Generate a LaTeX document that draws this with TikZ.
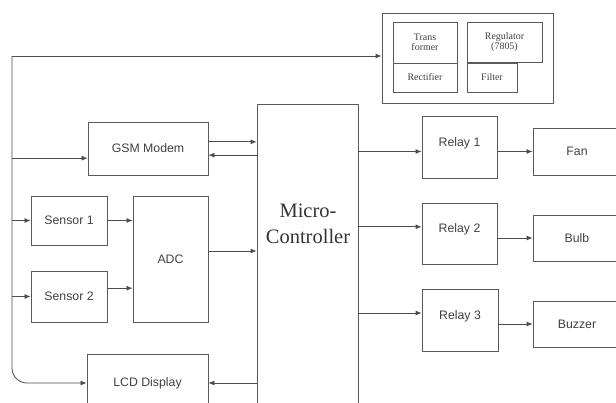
\documentclass[tikz,border=0pt]{standalone}
\usepackage{fontspec}
\setmainfont{Liberation Serif}
\setsansfont{Liberation Sans}
\usetikzlibrary{arrows.meta}

\begin{document}
\begin{tikzpicture}[x=0.03cm,y=-0.03cm,>={Latex[length=1.8mm,width=1.5mm]},
  blk/.style={draw=black!65,line width=0.7pt,inner sep=0pt,text=black!75,
    font=\sffamily\fontsize{10.5}{12}\selectfont},
  relayblk/.style={blk,text depth=0.3cm},
  psblk/.style={blk,align=center,font=\fontsize{8.5}{9}\selectfont},
  wire/.style={->,draw=black!70,line width=0.7pt}]
  \useasboundingbox (0,0) rectangle (616,403);
  \clip (0,0) rectangle (616,403);
  % power supply
  \node[blk,minimum width=5.13cm,minimum height=2.7cm] (ps) at (467.5,58) {};
  \node[psblk,minimum width=1.92cm,minimum height=1.23cm] (trans) at (425,42.5) {Trans\\former};
  \node[psblk,minimum width=2.25cm,minimum height=1.2cm] (reg) at (504.5,42) {Regulator\\(7805)};
  \node[psblk,minimum width=1.92cm,minimum height=0.87cm] (rect) at (425,77.5) {Rectifier};
  \node[psblk,minimum width=1.5cm,minimum height=0.87cm] (filter) at (492,77.5) {Filter};
  % input side
  \node[blk,minimum width=3.6cm,minimum height=1.59cm] (gsm) at (148,148.5) {GSM Modem};
  \node[blk,minimum width=2.28cm,minimum height=1.47cm] (s1) at (69,220.5) {Sensor 1};
  \node[blk,minimum width=2.28cm,minimum height=1.53cm] (s2) at (69,296.5) {Sensor 2};
  \node[blk,minimum width=2.25cm,minimum height=3.78cm] (adc) at (170.5,259) {ADC};
  \node[blk,minimum width=3.63cm,minimum height=1.7cm] (lcd) at (147.5,383) {LCD Display};
  % controller
  \node[blk,minimum width=3.03cm,minimum height=9.48cm] (mc) at (307.5,262) {};
  \node[align=center,text=black!80,font=\fontsize{17.5}{22}\selectfont] (mclabel) at (308,224) {Micro-\\Controller};
  % output side
  \node[relayblk,minimum width=2.25cm,minimum height=1.86cm] (r1) at (459.5,147) {Relay 1};
  \node[relayblk,minimum width=2.25cm,minimum height=1.83cm] (r2) at (459.5,233.5) {Relay 2};
  \node[relayblk,minimum width=2.28cm,minimum height=1.86cm] (r3) at (460,320) {Relay 3};
  \node[blk,minimum width=2.64cm,minimum height=1.41cm] (fan) at (577,151.5) {Fan};
  \node[blk,minimum width=2.64cm,minimum height=1.38cm] (bulb) at (577,238) {Bulb};
  \node[blk,minimum width=2.64cm,minimum height=1.38cm] (buzzer) at (577,324) {Buzzer};

  % supply bus
  \coordinate (bustop) at (12,56);
  \draw[wire] (bustop) -- (bustop -| ps.west);
  \draw[wire,rounded corners=0.45cm] (bustop) -- (bustop |- lcd.west) -- (lcd.west);
  \coordinate (gsmin) at ([yshift=-0.29cm]gsm.west);
  \draw[wire] (bustop |- gsmin) -- (gsmin);
  \draw[wire] (bustop |- s1.west) -- (s1.west);
  \draw[wire] (bustop |- s2.west) -- (s2.west);

  % into the controller
  \coordinate (gsmout) at ([yshift=0.2cm]gsm.east);
  \coordinate (gsmback) at ([yshift=-0.2cm]gsm.east);
  \draw[wire] (gsmout) -- (gsmout -| mc.west);
  \draw[wire] (gsmback -| mc.west) -- (gsmback);
  \draw[wire] (s1.east) -- (s1.east -| adc.west);
  \coordinate (s2out) at ([yshift=0.25cm]s2.east);
  \draw[wire] (s2out) -- (s2out -| adc.west);
  \coordinate (adcout) at ([yshift=0.24cm]adc.east);
  \draw[wire] (adcout) -- (adcout -| mc.west);
  \draw[wire] (lcd.east -| mc.west) -- (lcd.east);

  % relays and loads
  \draw[wire] (fan.west -| mc.east) -- (fan.west -| r1.west);
  \draw[wire] (fan.west -| r1.east) -- (fan.west);
  \coordinate (r2in) at ([yshift=0.2cm]r2.west);
  \draw[wire] (r2in -| mc.east) -- (r2in);
  \draw[wire] (bulb.west -| r2.east) -- (bulb.west);
  \coordinate (r3in) at ([yshift=0.21cm]r3.west);
  \draw[wire] (r3in -| mc.east) -- (r3in);
  \draw[wire] (buzzer.west -| r3.east) -- (buzzer.west);
\end{tikzpicture}
\end{document}
